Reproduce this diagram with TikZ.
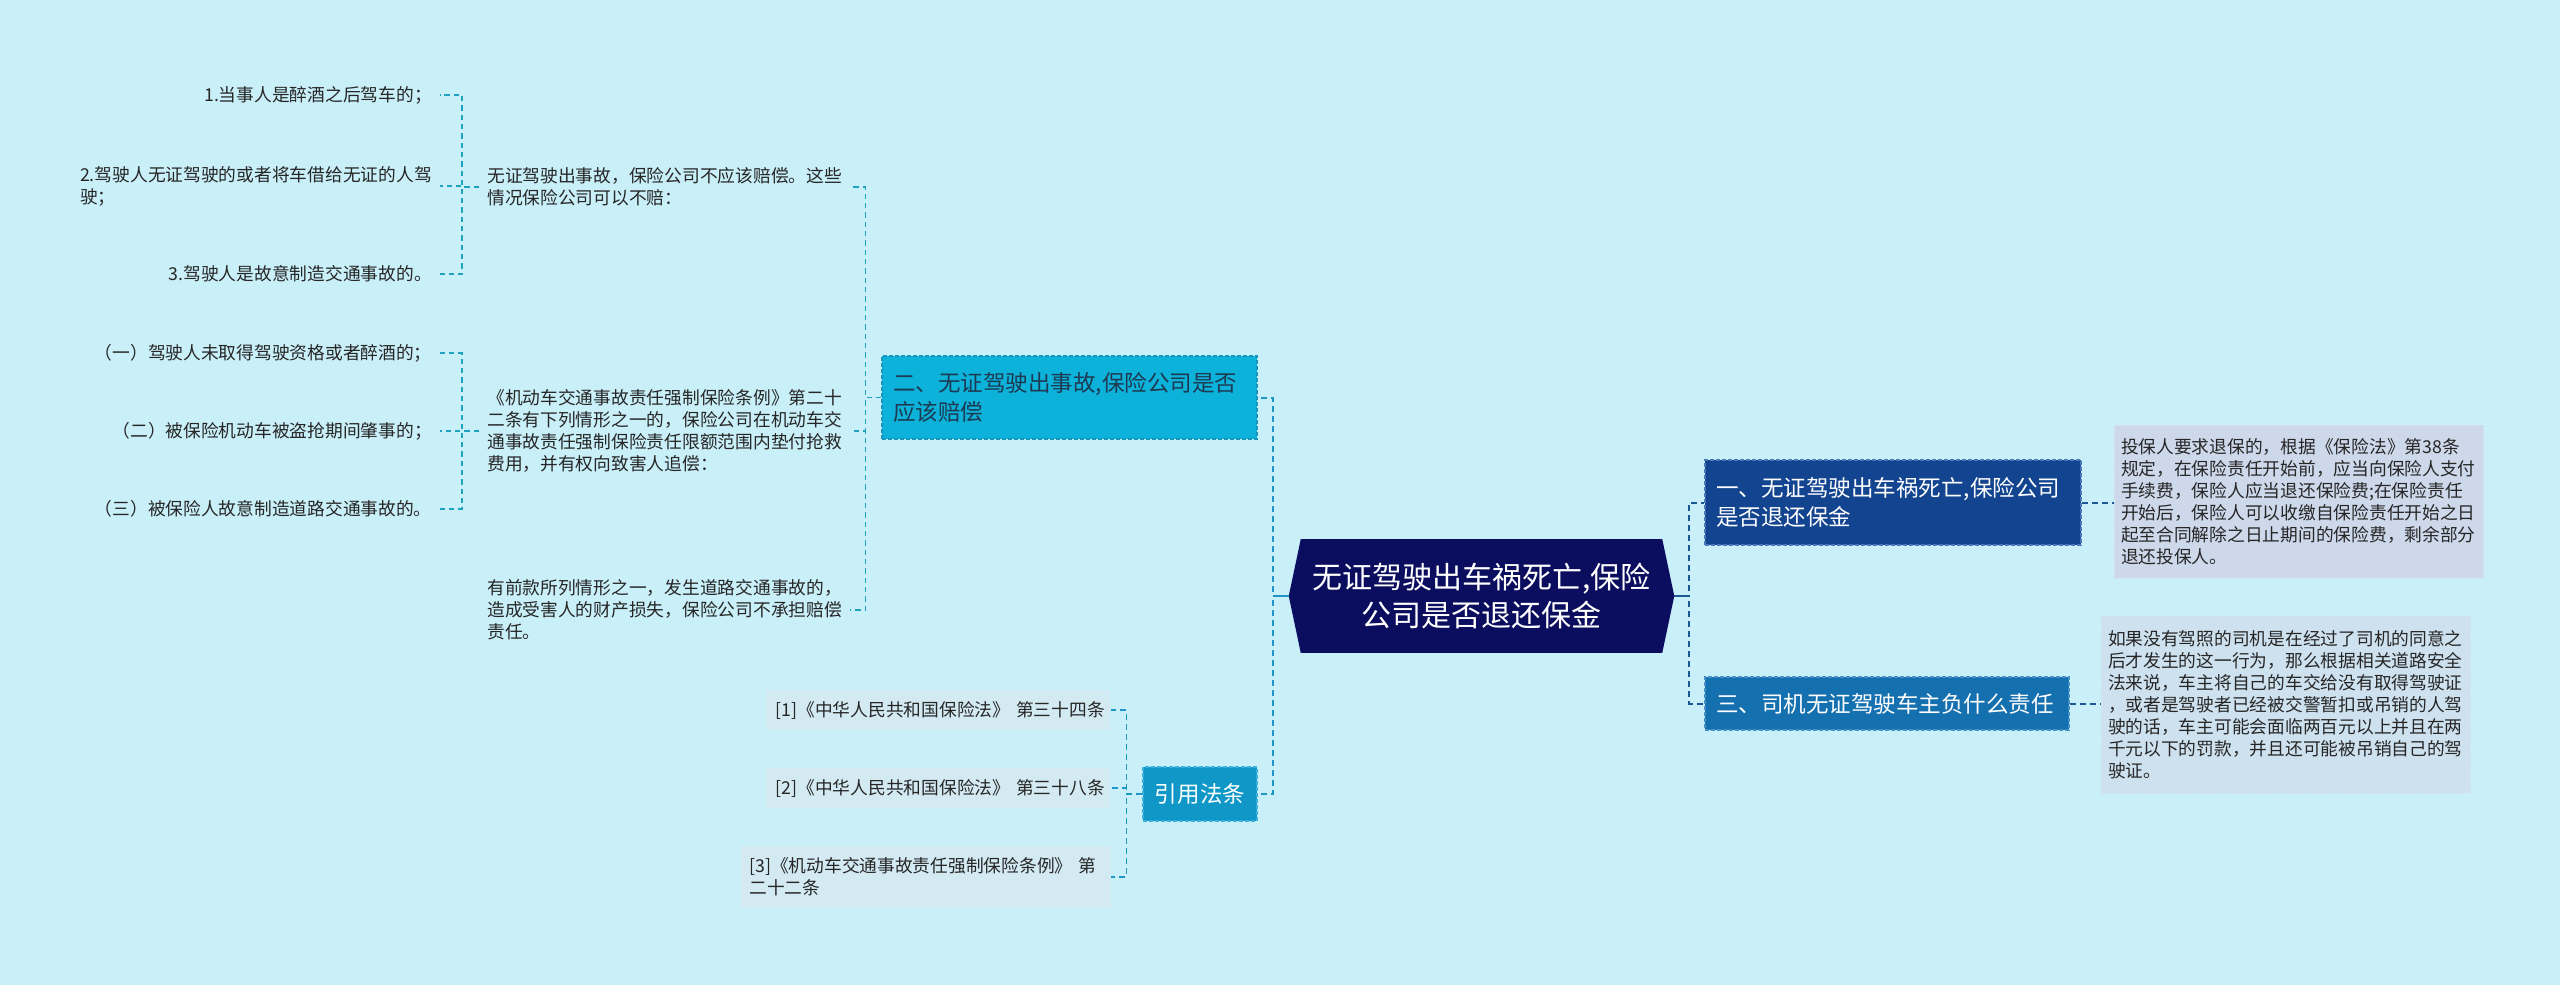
\documentclass[tikz,border=0pt]{standalone}
\usepackage{fontspec}
\setmainfont{Noto Sans CJK SC}
\usetikzlibrary{backgrounds}
\definecolor{bgc}{HTML}{C9EFF8}
\definecolor{rootc}{HTML}{0B0E5E}
\definecolor{onec}{HTML}{12448F}
\definecolor{onebd}{HTML}{4A78B8}
\definecolor{threec}{HTML}{1570B0}
\definecolor{threebd}{HTML}{4A90C8}
\definecolor{twoc}{HTML}{0CB2D9}
\definecolor{twobd}{HTML}{1896BC}
\definecolor{twotxt}{HTML}{1D3A52}
\definecolor{refc}{HTML}{0F97C8}
\definecolor{refbd}{HTML}{3AB0DA}
\definecolor{boxa}{HTML}{CDD8EA}
\definecolor{boxb}{HTML}{CEE1EE}
\definecolor{refbox}{HTML}{D3EAF3}
\definecolor{txtc}{HTML}{262626}
\definecolor{lineL}{HTML}{1FA2C2}
\definecolor{lineM}{HTML}{1E96C8}
\definecolor{lineR}{HTML}{1B5895}
\newcommand\smallfnt{\fontsize{13.3pt}{16.5pt}\selectfont}
\newcommand\midfnt{\fontsize{16.9pt}{22pt}\selectfont}
\newcommand\bigfnt{\fontsize{22.5pt}{28.5pt}\selectfont}
\begin{document}
\begin{tikzpicture}[x=0.75pt,y=-0.75pt,
  leaf/.style={font=\smallfnt, text=txtc, inner xsep=6pt, inner ysep=2pt, align=left},
  txtbox/.style={leaf, text width=267pt, inner xsep=5pt, draw=white!25!boxa, dashed, dash pattern=on 2pt off 1.5pt, line width=0.5pt},
  refleaf/.style={leaf, fill=refbox, anchor=west},
  midbox/.style={font=\midfnt, align=left, inner xsep=8.25pt, dashed, dash pattern=on 3pt off 1.5pt, line width=0.8pt},
  conL/.style={draw=lineL, dashed, dash pattern=on 4pt off 3pt, line width=0.9pt},
  conM/.style={draw=lineM, dashed, dash pattern=on 4.5pt off 3pt, line width=1.5pt},
  conR/.style={draw=lineR, dashed, dash pattern=on 4.5pt off 3pt, line width=1.5pt},
  stubM/.style={draw=lineM, line width=1.8pt},
  stubR/.style={draw=lineR, line width=1.8pt}]
\begin{pgfonlayer}{background}
\fill[bgc] (0,0) rectangle (2560,985);
\end{pgfonlayer}
\useasboundingbox (0,0) rectangle (2560,985);

% root
\node[font=\bigfnt, text=white, align=center, minimum width=288.75pt, minimum height=84.75pt] (root) at (1481.5,596) {无证驾驶出车祸死亡,保险\\公司是否退还保金};
\begin{pgfonlayer}{background}
\fill[rootc] (root.west) -- ([xshift=9pt]root.north west) -- ([xshift=-9pt]root.north east) -- (root.east) -- ([xshift=-9pt]root.south east) -- ([xshift=9pt]root.south west) -- cycle;
\end{pgfonlayer}

% first level
\node[midbox, fill=twoc, draw=twobd, text=twotxt, text width=264.75pt, minimum height=62.25pt] (n2) at (1069.5,397.5) {二、无证驾驶出事故,保险公司是否\\应该赔偿};
\node[midbox, fill=onec, draw=onebd, text=white, text width=265.5pt, minimum height=63.75pt] (n1) at (1893,502.5) {一、无证驾驶出车祸死亡,保险公司\\是否退还保金};
\node[midbox, fill=threec, draw=threebd, text=white, text width=256.5pt, minimum height=39.75pt] (n3) at (1887,703.5) {三、司机无证驾驶车主负什么责任};
\node[midbox, fill=refc, draw=refbd, text=white, align=center, inner xsep=0pt, minimum width=85.5pt, minimum height=40.5pt] (ref) at (1200,794) {引用法条};

% right text boxes
\node[txtbox, fill=boxa, minimum height=114.75pt] (t1) at (2299,501.5) {投保人要求退保的，根据《保险法》第38条\\规定，在保险责任开始前，应当向保险人支付\\手续费，保险人应当退还保险费;在保险责任\\开始后，保险人可以收缴自保险责任开始之日\\起至合同解除之日止期间的保险费，剩余部分\\退还投保人。};
\node[txtbox, fill=boxb, minimum height=132.75pt] (t2) at (2286,704.5) {如果没有驾照的司机是在经过了司机的同意之\\后才发生的这一行为，那么根据相关道路安全\\法来说，车主将自己的车交给没有取得驾驶证\\，或者是驾驶者已经被交警暂扣或吊销的人驾\\驶的话，车主可能会面临两百元以上并且在两\\千元以下的罚款，并且还可能被吊销自己的驾\\驶证。};

% children of n2
\node[leaf, anchor=west] (A) at (479,187) {无证驾驶出事故，保险公司不应该赔偿。这些\\情况保险公司可以不赔：};
\node[leaf, anchor=west] (B) at (479,431) {《机动车交通事故责任强制保险条例》第二十\\二条有下列情形之一的，保险公司在机动车交\\通事故责任强制保险责任限额范围内垫付抢救\\费用，并有权向致害人追偿：};
\node[leaf, anchor=west] (C) at (479,610) {有前款所列情形之一，发生道路交通事故的，\\造成受害人的财产损失，保险公司不承担赔偿\\责任。};

\node[leaf, anchor=east] (A1) at (440,95) {1.当事人是醉酒之后驾车的；};
\node[leaf, anchor=east] (A2) at (440,186) {2.驾驶人无证驾驶的或者将车借给无证的人驾\\驶；};
\node[leaf, anchor=east] (A3) at (440,274) {3.驾驶人是故意制造交通事故的。};
\node[leaf, anchor=east] (B1) at (440,353) {（一）驾驶人未取得驾驶资格或者醉酒的；};
\node[leaf, anchor=east] (B2) at (440,431) {（二）被保险机动车被盗抢期间肇事的；};
\node[leaf, anchor=east] (B3) at (440,509) {（三）被保险人故意制造道路交通事故的。};

% children of ref
\node[refleaf, text width=250pt, inner xsep=4pt, minimum height=30pt] (r1) at (766,710) {\hspace*{3pt}[1]《中华人民共和国保险法》 第三十四条};
\node[refleaf, text width=250pt, inner xsep=4pt, minimum height=30pt] (r2) at (766,788) {\hspace*{3pt}[2]《中华人民共和国保险法》 第三十八条};
\node[refleaf, text width=265pt, inner xsep=6pt, minimum height=46.5pt] (r3) at (741,877) {[3]《机动车交通事故责任强制保险条例》 第\\二十二条};

% connectors
\draw[conM] (root.west) -- ++(-16,0) |- (n2.east);
\draw[conM] (root.west) -- ++(-16,0) |- (ref.east);
\draw[stubM] (root.west) -- ++(-16,0);
\draw[conR] (root.east) -- ++(15,0) |- (n1.west);
\draw[conR] (root.east) -- ++(15,0) |- (n3.west);
\draw[stubR] (root.east) -- ++(15,0);
\draw[conR] (n1.east) -- (n1.east -| t1.west);
\draw[conR] (n3.east) -- (n3.east -| t2.west);

\draw[conL] (n2.west) -- ++(-16,0) |- (A.east);
\draw[conL] (n2.west) -- ++(-16,0) |- (B.east);
\draw[conL] (n2.west) -- ++(-16,0) |- (C.east);
\draw[conL] (A.west) -- ++(-17,0) |- (A1.east);
\draw[conL] (A.west) -- ++(-17,0) |- (A2.east);
\draw[conL] (A.west) -- ++(-17,0) |- (A3.east);
\draw[conL] (B.west) -- ++(-17,0) |- (B1.east);
\draw[conL] (B.west) -- ++(-17,0) |- (B2.east);
\draw[conL] (B.west) -- ++(-17,0) |- (B3.east);

\draw[conM, line width=1.2pt] (ref.west) -- ++(-16,0) |- (r1.east);
\draw[conM, line width=1.2pt] (ref.west) -- ++(-16,0) |- (r2.east);
\draw[conM, line width=1.2pt] (ref.west) -- ++(-16,0) |- (r3.east);
\end{tikzpicture}
\end{document}
